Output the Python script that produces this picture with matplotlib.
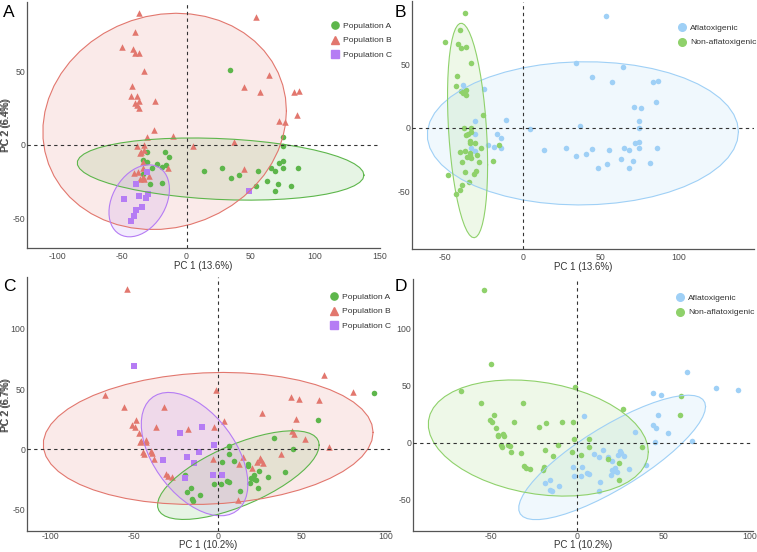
import numpy as np
import matplotlib
matplotlib.use("Agg")
import matplotlib.pyplot as plt
from matplotlib.ticker import MultipleLocator
from matplotlib.lines import Line2D

plt.rcParams['font.family'] = ['Liberation Sans', 'DejaVu Sans']
plt.rcParams['axes.unicode_minus'] = False

# ---- PCA of panels A/B (PC1 13.6 %, PC2 6.4 %) ----
# order: Population B (44), Population A (31), Population C (11)
pca1_x = [-37.2, 53.7, -40.3, -49.9, -41.8, -39.7, -36.7, -33.2, 64.3, -42.5,
          44.3, 57.2, 83.5, 87.1, -43.3, -38.5, -36.7, -39.7, -38.7, -36.9,
          -24.8, 85.6, 71.7, 76.2, -25.6, -31.1, -10.6, 4.8, 37.0, -38.2,
          -33.2, -36.5, -35.5, -33.2, -34.0, -33.6, -37.5, -40.8, -34.2, -29.3,
          -36.0, -33.2, -14.4, 44.3,
          -31.1, -17.0, -13.9, -34.2, -31.1, -22.8, -27.1, -18.7, -15.7, -34.2,
          -28.4, -19.2, 34.0, 75.0, 75.0, 13.7, 27.8, 34.4, 40.5, 55.4,
          65.3, 68.4, 72.2, 74.7, 75.0, 86.6, 54.2, 62.8, 70.9, 68.4, 81.5,
          -30.9, -39.3, -37.0, -30.1, -31.4, -48.4, -34.9, -39.5, -40.5, -42.8, 48.6]
pca1_y = [90.5, 87.7, 77.3, 67.3, 65.9, 62.7, 63.2, 50.9, 48.2, 40.5,
          39.8, 35.9, 36.1, 37.0, 33.2, 33.6, 29.8, 28.6, 27.3, 25.5,
          30.2, 20.5, 16.6, 15.5, 10.2, 5.7, 5.9, -0.9, 1.8, -0.5,
          0.2, -5.7, -5.0, -3.4, -12.0, -15.5, -18.6, -19.1, -21.6, -21.0,
          -23.2, -23.6, -16.0, -16.4,
          -4.5, -5.0, -8.2, -10.0, -11.8, -13.2, -15.9, -15.2, -13.9, -20.2,
          -26.8, -25.9, 51.1, 5.2, -0.5, -17.7, -15.9, -22.3, -20.5, -17.5,
          -15.9, -17.5, -12.3, -11.1, -15.9, -15.7, -28.2, -24.8, -26.4, -31.6, -28.0,
          -18.2, -26.8, -35.0, -33.9, -36.4, -37.0, -42.7, -44.8, -48.6, -52.3, -31.4]
pca1_pop = ["Population B"] * 44 + ["Population A"] * 31 + ["Population C"] * 11
pca1_tox = [0, 1, 0, 0, 0, 0, 0, 0, 1, 0, 1, 1, 1, 1, 0, 1, 0, 0, 0, 0,
            1, 1, 1, 1, 0, 1, 1, 1, 1, 0, 0, 0, 0, 0, 0, 1, 0, 0, 0, 0,
            0, 0, 1, 1,
            1, 1, 1, 0, 0, 1, 0, 1, 0, 0, 0, 0] + [1] * 19 + \
           [1, 0, 0, 0, 0, 0, 0, 0, 0, 0, 1]

# ---- PCA of panels C/D (PC1 10.2 %, PC2 6.7 %) ----
# order: Population B (46), Population A (30), Population C (11)
pca2_x = [-54.0, -67.4, -56.0, -31.8, -48.6, -51.0, -49.5, -47.2, -36.7, -18.0,
          -2.5, -1.3, 3.8, -45.8, -43.0, -42.7, -46.2, -44.6, -43.8, -40.0,
          -39.2, -38.3, -31.0, -29.6, -27.4, -3.0, 15.0, 12.6, 12.4, 26.5,
          25.0, 23.6, 27.0, 25.6, 20.2, 37.6, 44.0, 48.6, 46.6, 44.2,
          45.8, 52.4, 60.2, 63.6, 66.6, 80.6,
          93.0, 59.6, 45.2, 33.6, 40.0, 30.0, 24.4, 24.2, 21.8, 20.0,
          21.4, 23.0, 19.4, 17.8, 18.0, 9.6, 7.0, 7.0, 2.4, 13.2,
          5.6, 6.6, 2.2, -2.0, -10.6, -15.6, -15.0, -15.8, -18.6, -19.6,
          -50.2, -22.5, -9.2, -2.2, -11.3, -32.7, -18.6, -14.2, -19.8, -2.7, 2.6]
pca2_y = [133.4, 45.4, 35.1, 34.8, 24.0, 20.0, 18.3, 13.3, 18.2, 17.0,
          18.5, 49.0, 23.2, 6.7, 8.1, 5.7, 5.8, -2.2, -3.5, -1.6,
          -3.0, -8.2, -20.2, -22.3, -23.1, -8.2, -6.7, -12.0, -41.8, 30.0,
          -7.2, -10.9, -11.4, -8.6, -15.6, -3.9, 43.7, 41.5, 24.8, 15.3,
          13.1, 8.6, 40.9, 61.8, 1.7, 47.9,
          46.5, 24.2, 0.3, 9.2, -19.2, -23.1, -18.0, -32.3, -21.7, -23.4,
          -24.8, -25.4, -27.8, -12.0, -14.2, -9.5, 3.1, -3.9, -10.9, -34.3,
          -26.5, -27.0, -28.7, -29.0, -38.2, -41.2, -42.6, -32.3, -35.1, -20.9,
          68.8, 13.6, 18.6, 3.7, -2.3, -9.0, -6.7, -11.7, -23.9, -21.5, -20.9]
pca2_pop = ["Population B"] * 46 + ["Population A"] * 30 + ["Population C"] * 11
pca2_tox = [0] * 12 + [1] + [0] * 13 + [1, 1, 1, 0, 1, 1, 1, 1, 1, 0,
            1, 1, 1, 1, 1, 1, 0, 1, 1, 1] + \
           [1, 0, 1, 1, 1, 1, 0, 0, 1, 1, 1, 1, 1, 1, 0, 1, 0, 0, 0, 1,
            1, 1, 1, 1, 1, 1, 1, 1, 1, 0] + \
           [0] * 9 + [1, 1]

pop_levels = ["Population A", "Population B", "Population C"]
pop_colors = {"Population A": "#5db64b", "Population B": "#e2776e", "Population C": "#b57cf4"}
pop_markers = {"Population A": "o", "Population B": "^", "Population C": "s"}
pop_sizes = {"Population A": 16, "Population B": 22, "Population C": 15}
tox_levels = ["Aflatoxigenic", "Non-aflatoxigenic"]
tox_colors = {"Aflatoxigenic": "#9fd0f6", "Non-aflatoxigenic": "#8fd16b"}


def cov_trob(X, nu=5, maxit=25, tol=0.01):
    # port of MASS::cov.trob, which ggplot's stat_ellipse uses
    n, p = X.shape
    loc = X.mean(axis=0)
    w = np.ones(n)
    for _ in range(maxit):
        w0 = w
        Xc = X - loc
        _, d, vt = np.linalg.svd(np.sqrt(w / w.sum())[:, None] * Xc, full_matrices=False)
        wX = Xc @ vt.T @ np.diag(1 / d)
        Q = (wX ** 2).sum(axis=1)
        w = (nu + p) / (nu + Q)
        loc = (w[:, None] * X).sum(axis=0) / w.sum()
        if np.all(np.abs(w - w0) < tol):
            break
    sw = np.sqrt(w)[:, None] * Xc
    return loc, sw.T @ sw / n


def ellipse(xs, ys, level=0.95, segments=51):
    X = np.column_stack([xs, ys])
    center, shape = cov_trob(X)
    dfd = len(xs) - 1
    qf = dfd / 2 * ((1 - level) ** (-2 / dfd) - 1)
    radius = np.sqrt(2 * qf)
    ang = np.linspace(0, 2 * np.pi, segments + 1)
    circle = np.column_stack([np.cos(ang), np.sin(ang)])
    chol = np.linalg.cholesky(shape).T
    return center + radius * circle @ chol


W, H = 757, 552
fig = plt.figure(figsize=(W / 100, H / 100), dpi=100)


def px_axes(l, r, t, b, tick_gap, title_gap):
    ax = fig.add_axes([l / W, 1 - b / H, (r - l) / W, (b - t) / H])
    ax.box_px = (l, r, t, b)
    ax.gaps = (tick_gap, title_gap)
    return ax


def style(ax, xlab, ylab, xs, ys, ells):
    allx = np.concatenate([xs] + [e[:, 0] for e in ells])
    ally = np.concatenate([ys] + [e[:, 1] for e in ells])
    dx = (allx.max() - allx.min()) * 0.05
    dy = (ally.max() - ally.min()) * 0.05
    ax.set_xlim(allx.min() - dx, allx.max() + dx)
    ax.set_ylim(ally.min() - dy, ally.max() + dy)
    ax.axhline(0, color="#333333", lw=0.8, ls=(0, (3, 3)), zorder=5)
    ax.axvline(0, color="#333333", lw=0.8, ls=(0, (3, 3)), zorder=5)
    for s in ["top", "right"]:
        ax.spines[s].set_visible(False)
    for s in ["left", "bottom"]:
        ax.spines[s].set_color("#555555")
        ax.spines[s].set_linewidth(0.9)
    ax.xaxis.set_major_locator(MultipleLocator(50))
    ax.yaxis.set_major_locator(MultipleLocator(50))
    tick_gap, title_gap = ax.gaps
    ax.tick_params(labelsize=6.3, colors="#4d4d4d", length=0)
    ax.tick_params(axis="x", pad=tick_gap * 0.72)
    ax.tick_params(axis="y", pad=1.2)
    l, r, t, b = ax.box_px
    ax.set_xlabel(xlab, fontsize=7, color="#333333")
    ax.set_ylabel(ylab, fontsize=7, color="#444444")
    ax.xaxis.set_label_coords(0.5, -(title_gap / (b - t)))
    ax.yaxis.set_label_coords(-(l - 11) / (r - l), 0.5)
    ax.patch.set_alpha(0)


def add_legend(ax, handles, mx, my):
    # mx, my: pixel position of the first legend key centre
    fs = 6.1
    fs_px = fs * 100 / 72
    ax.legend(handles=handles, loc="upper left",
              bbox_to_anchor=((mx - 0.5 * fs_px) / W, 1 - (my - 5) / H),
              bbox_transform=fig.transFigure, frameon=False, fontsize=fs,
              handlelength=1.0, handletextpad=0.45, labelspacing=0.78,
              borderpad=0, borderaxespad=0, labelcolor="#333333")


def draw_pop(ax, xs, ys, pops, xlab, ylab, leg_xy):
    xs, ys, pops = np.array(xs), np.array(ys), np.array(pops)
    ells = []
    for lv in pop_levels:
        m = pops == lv
        ax.scatter(xs[m], ys[m], s=pop_sizes[lv], marker=pop_markers[lv],
                   color=pop_colors[lv], linewidths=0, zorder=3)
    for lv in pop_levels:
        m = pops == lv
        e = ellipse(xs[m], ys[m])
        ells.append(e)
        ax.fill(e[:, 0], e[:, 1], facecolor=pop_colors[lv], alpha=0.15, zorder=2)
        ax.plot(e[:, 0], e[:, 1], color=pop_colors[lv], lw=0.8, zorder=4)
    style(ax, xlab, ylab, xs, ys, ells)
    handles = [Line2D([], [], ls="", marker=pop_markers[lv], color=pop_colors[lv],
                      markersize=5.2 if lv != "Population B" else 6, label=lv)
               for lv in pop_levels]
    add_legend(ax, handles, *leg_xy)


def draw_tox(ax, xs, ys, tox, xlab, ylab, leg_xy):
    xs, ys = np.array(xs), np.array(ys)
    labs = np.where(np.array(tox) == 1, "Aflatoxigenic", "Non-aflatoxigenic")
    ells = []
    for lv in tox_levels:
        m = labs == lv
        ax.scatter(xs[m], ys[m], s=16, marker="o", color=tox_colors[lv],
                   linewidths=0, zorder=3)
    for lv in tox_levels:
        m = labs == lv
        e = ellipse(xs[m], ys[m])
        ells.append(e)
        ax.fill(e[:, 0], e[:, 1], facecolor=tox_colors[lv], alpha=0.15, zorder=2)
        ax.plot(e[:, 0], e[:, 1], color=tox_colors[lv], lw=0.8, zorder=4)
    style(ax, xlab, ylab, xs, ys, ells)
    handles = [Line2D([], [], ls="", marker="o", color=tox_colors[lv],
                      markersize=5.5, label=lv) for lv in tox_levels]
    add_legend(ax, handles, *leg_xy)


axA = px_axes(27, 380, 1.5, 248, 4.0, 13.0)
axB = px_axes(412, 754, 1.5, 249, 4.0, 13.0)
axC = px_axes(27, 390, 277, 531, 1.0, 8.5)
axD = px_axes(413, 753, 279, 531, 1.3, 8.8)

draw_pop(axA, pca1_x, pca1_y, pca1_pop, "PC 1 (13.6%)", "PC 2 (6.4%)", (335, 27))
draw_tox(axB, pca1_x, pca1_y, pca1_tox, "PC 1 (13.6%)", "PC 2 (6.4%)", (682, 29))
draw_pop(axC, pca2_x, pca2_y, pca2_pop, "PC 1 (10.2%)", "PC 2 (6.7%)", (334, 298))
draw_tox(axD, pca2_x, pca2_y, pca2_tox, "PC 1 (10.2%)", "PC 2 (6.7%)", (680, 299))

for lab, (x, y) in zip("ABCD", [(3, 5), (395, 5), (3, 279), (395, 279)]):
    fig.text(x / W, 1 - y / H, lab, fontsize=12.5, va="top", ha="left", color="black")

fig.savefig("out.png", dpi=100)
